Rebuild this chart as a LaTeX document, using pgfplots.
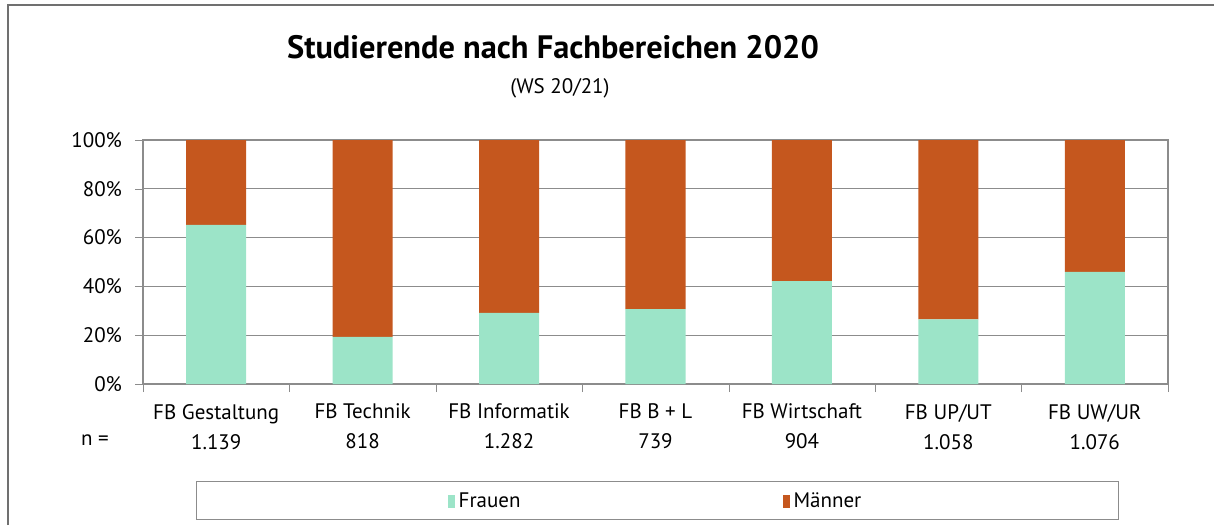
\documentclass[border=0pt]{standalone}
\usepackage{fontspec}
\setmainfont{PT Sans}
\usepackage{pgfplots}
\pgfplotsset{compat=1.18}
\definecolor{frauen}{RGB}{156,228,200}
\definecolor{maenner}{RGB}{197,87,30}
\definecolor{achse}{RGB}{140,140,140}

\pgfplotstableread{
x frauen maenner
0 65.2 34.8
1 19.3 80.7
2 29.1 70.9
3 30.7 69.3
4 42.2 57.8
5 26.5 73.5
6 46.0 54.0
}\studis

\begin{document}
\begin{tikzpicture}
\path[use as bounding box] (0,0) rectangle (607pt,262.5pt);
\draw[achse!80!black, line width=0.8pt] (4pt,0) -- (4pt,260pt) -- (607pt,260pt);
\node[font=\fontsize{16.2}{18}\selectfont\bfseries] at (276.5pt,239pt) {Studierende nach Fachbereichen 2020};
\node[font=\fontsize{10.5}{12}\selectfont] at (280pt,218.5pt) {(WS 20/21)};
\node[font=\fontsize{10.5}{12}\selectfont] at (47.5pt,42.5pt) {n =};
\draw[achse] (98pt,3pt) rectangle (559pt,22pt);

\begin{axis}[
    at={(71.5pt,70.5pt)}, anchor=south west,
    width=512.5pt, height=122pt, scale only axis,
    ybar stacked, bar width=0.41,
    xmin=-0.5, xmax=6.5, ymin=0, ymax=100,
    font=\fontsize{10.5}{15}\selectfont,
    /pgf/number format/assume math mode=true,
    xtick={0,...,6},
    xticklabels={FB Gestaltung\\1.139, FB Technik\\818, FB Informatik\\1.282,
        FB B + L\\739, FB Wirtschaft\\904, FB UP/UT\\1.058, FB UW/UR\\1.076},
    xticklabel style={align=center, yshift=-2.5pt},
    xtick style={draw=none},
    extra x ticks={-0.5,0.5,...,6.5},
    extra x tick labels={},
    extra x tick style={grid=none, xtick style={draw=achse}},
    ytick={0,20,...,100},
    yticklabel={\pgfmathprintnumber{\tick}\%},
    yticklabel style={xshift=-3pt},
    tick align=outside, major tick length=4pt,
    tick pos=left,
    ymajorgrids, grid style={achse, line width=0.6pt},
    axis line style={achse, line width=0.6pt},
    ytick style={achse},
    legend columns=2,
    legend style={at={(0.501,-0.482)}, anchor=center, draw=none, fill=none,
        font=\fontsize{10.5}{12}\selectfont,
        /tikz/every even column/.append style={column sep=129pt}},
]
\addplot[fill=frauen, draw=none,
    legend image code/.code={\fill[frauen] (0pt,-3.4pt) rectangle (3.5pt,3.4pt);}]
    table[x=x, y=frauen] {\studis};
\addlegendentry{Frauen}
\addplot[fill=maenner, draw=none,
    legend image code/.code={\fill[maenner] (0pt,-3.4pt) rectangle (3.5pt,3.4pt);}]
    table[x=x, y=maenner] {\studis};
\addlegendentry{Männer}
\end{axis}
\end{tikzpicture}
\end{document}
